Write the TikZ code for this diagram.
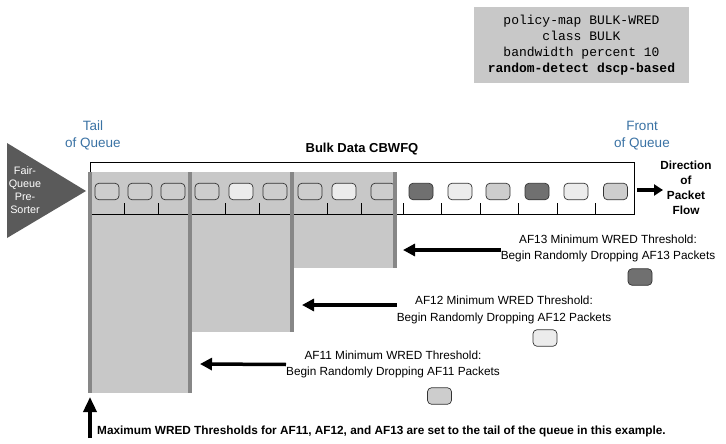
\documentclass[tikz,border=0pt]{standalone}
\usepackage{fontspec}
\setmainfont{Liberation Sans}
\setmonofont{Liberation Mono}
\usetikzlibrary{arrows.meta}
\definecolor{queuegray}{HTML}{C8C8C8}
\definecolor{bargray}{HTML}{878787}
\definecolor{pktdark}{HTML}{707070}
\definecolor{pktmid}{HTML}{CDCDCD}
\definecolor{pktlight}{HTML}{ECECEC}
\definecolor{sortergray}{HTML}{5A5A5A}
\definecolor{endblue}{HTML}{3A72A4}
\begin{document}
\begin{tikzpicture}[x=1pt,y=-1pt,
    pkt/.style={draw=black!80,line width=0.7pt,rounded corners=4pt,
        minimum width=24pt,minimum height=16.5pt,inner sep=0pt},
    thr/.style={line width=3.5pt,-{Triangle[length=12pt,width=12pt]}},
    bar/.style={draw=bargray,line width=4pt},
    wred/.style={align=center,inner sep=0pt,font=\fontsize{11.8}{16.5}\selectfont},
    endlbl/.style={align=center,text=endblue,font=\fontsize{13.5}{17}\selectfont}]
    \useasboundingbox (0,0) rectangle (726,444);

    % config snippet
    \node[fill=queuegray,minimum width=215pt,minimum height=76pt,align=center,
        font=\ttfamily\fontsize{13}{16.2}\selectfont] (config) at (581.5,45)
        {policy-map BULK-WRED\\class BULK\\bandwidth percent 10\\\textbf{random-detect dscp-based}};

    % pre-sorter
    \fill[sortergray] (7,143) -- (7,238) -- (86,191) -- cycle;
    \node[align=center,text=white,font=\fontsize{10.8}{13}\selectfont] (sorter) at (25,190)
        {Fair-\\Queue\\Pre-\\Sorter};

    \node[endlbl] (tail) at (93,135.5) {Tail\\of Queue};
    \node[endlbl] (front) at (642,135.5) {Front\\of Queue};
    \node[font=\bfseries\fontsize{13}{15}\selectfont] (cbwfq) at (362,149) {Bulk Data CBWFQ};

    % thresholds
    \fill[queuegray] (90,172) rectangle (190,393);
    \fill[queuegray] (190,172) rectangle (292,332);
    \fill[queuegray] (292,172) rectangle (395,268);

    % queue
    \node[draw,line width=0.7pt,minimum width=544pt,minimum height=52pt,inner sep=0pt] (queue) at (362,188) {};
    \foreach \x in {123.9,157.8,225.6,259.4,327.2,361.1,403,441.5,480,518.5,557,595.5}
        \draw[line width=0.6pt] (\x,203) -- (\x,214);
    \foreach \x/\c [count=\i] in {107/pktmid,140/pktmid,173/pktmid,207/pktmid,241/pktlight,
        275/pktmid,310/pktmid,344/pktlight,383/pktmid,421/pktdark,460/pktlight,
        498/pktmid,537/pktdark,576/pktlight,615.5/pktmid}
        \node[pkt,fill=\c] (p\i) at (\x,191.5) {};

    \draw[bar] (90,172) -- (90,393);
    \draw[bar] (190,172) -- (190,393);
    \draw[bar] (292,172) -- (292,332);
    \draw[bar] (395,172) -- (395,268);

    % direction of flow
    \node[align=center,font=\bfseries\fontsize{11.8}{15}\selectfont] (flow) at (686,188)
        {Direction\\of\\Packet\\Flow};
    \coordinate (flowtip) at (663,190);
    \draw[line width=3.5pt,-{Triangle[length=9pt,width=11pt]}] ([xshift=3pt]queue.east |- flowtip) -- (flowtip);

    % minimum thresholds
    \node[wred] (af13) at (608,248.5) {AF13 Minimum WRED Threshold:\\Begin Randomly Dropping AF13 Packets};
    \node[pkt,fill=pktdark] (k13) at (640,277) {};
    \coordinate (t13) at (403,250);
    \draw[thr] ([yshift=-1.5pt]af13.west) -- (t13);

    \node[wred] (af12) at (504,310) {AF12 Minimum WRED Threshold:\\Begin Randomly Dropping AF12 Packets};
    \node[pkt,fill=pktlight] (k12) at (545,338) {};
    \coordinate (t12) at (302,305);
    \draw[thr] ([yshift=5pt]af12.west) -- (t12);

    \node[wred] (af11) at (393,364.5) {AF11 Minimum WRED Threshold:\\Begin Randomly Dropping AF11 Packets};
    \node[pkt,fill=pktmid] (k11) at (439.5,396) {};
    \coordinate (t11) at (200,364);
    \draw[thr] (af11.west) -- (t11);

    % maximum thresholds
    \coordinate (maxfoot) at (90,438);
    \coordinate (maxtip) at (90,397);
    \draw[line width=3.5pt,-{Triangle[length=15pt,width=13pt]}] (maxfoot) -- (maxtip);
    \node[anchor=west,inner sep=0pt,font=\bfseries\fontsize{11.8}{13}\selectfont] (maxnote) at (97,431)
        {Maximum WRED Thresholds for AF11, AF12, and AF13 are set to the tail of the queue in this example.};
\end{tikzpicture}
\end{document}
